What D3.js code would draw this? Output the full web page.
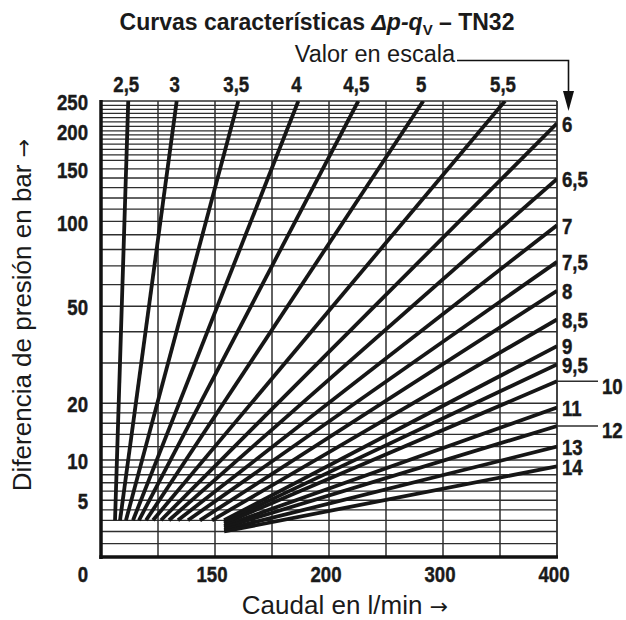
<!DOCTYPE html>
<html><head><meta charset="utf-8">
<script src="https://cdn.jsdelivr.net/npm/d3@7/dist/d3.min.js"></script>
<style>body{margin:0;background:#fff}</style>
</head><body><svg id="c" width="626" height="620"></svg>
<script>
// ---- data ----
const curveLabels = ["2,5","3","3,5","4","4,5","5","5,5","6","6,5","7","7,5","8","8,5","9","9,5","10","11","12","13","14"];
const startFlow = [12.3,16.7,21.9,28.1,33.3,39.5,45.6,52.6,59.6,67.5,76.3,86.8,97.4,108,108,108,108,108,108,108];
const startDp   = [3,3,3,3,3,3,3,3,3,3,3,3,3,3,2.85,2.7,2.5,2.35,2.15,2];
const endFlow   = [23.9,66.4,120.4,173.1,225.7,282.7,354.4,400,400,400,400,400,400,400,400,400,400,400,400,400];
const endDp     = [250,250,250,250,250,250,250,211.5,139,97,72.4,57,44.6,35.1,29.6,25.1,19.1,15.5,12,9.1];
const leaderLabels = ["10","12"];
const xTickValues = [0,100,200,300,400];
const xTickLabels = ["0","150","200","300","400"];
const xGridValues = [50,100,150,200,250,300,350];
const yTickValues = [5,10,20,50,100,150,200,250];
const yGridValues = [1,2,3,4,5,6,7,8,9,10,12,14,16,18,20,30,40,50,60,70,80,90,100,110,120,130,140,150,160,167,174,181,188,194,200,207,214,221,228,235,242];

// ---- layout ----
const svg = d3.select("#c");
const L = 101, R = 557, T = 101, B = 557;
const x = d3.scaleLinear().domain([0, 400]).range([L, R]);
const yLog = d3.scaleLog().domain([10, 260]).range([B, T]);
const y = v => yLog(v + 10);
const txtFont = "'Liberation Sans',Arial,Helvetica,sans-serif";
const grid = "#2e2e2e";
const ink = "#1a1a1a";

// condensed bold numbers
function num(g, px, py, str, anchor, central) {
  const t = g.append("text")
    .attr("transform", `translate(${px},${py}) scale(0.81,1)`)
    .attr("text-anchor", anchor)
    .attr("font-family", txtFont).attr("font-weight", "bold")
    .attr("font-size", 23).attr("fill", ink)
    .attr("stroke", ink).attr("stroke-width", 0.45).text(str);
  if (central) t.attr("dominant-baseline", "central");
  return t;
}

// clip
svg.append("defs").append("clipPath").attr("id","plot")
  .append("rect").attr("x",L).attr("y",T).attr("width",R-L).attr("height",B-T);

// gridlines
svg.append("g").selectAll("line").data(yGridValues).join("line")
  .attr("x1",L).attr("x2",R).attr("y1",d=>y(d)).attr("y2",d=>y(d))
  .attr("stroke",grid).attr("stroke-width",1.3);
svg.append("g").selectAll("line").data(xGridValues).join("line")
  .attr("y1",T).attr("y2",B).attr("x1",d=>x(d)).attr("x2",d=>x(d))
  .attr("stroke",grid).attr("stroke-width",1.5);

// frame
svg.append("line").attr("x1",L).attr("x2",R).attr("y1",T).attr("y2",T).attr("stroke",grid).attr("stroke-width",1.6);
svg.append("line").attr("x1",R).attr("x2",R).attr("y1",T).attr("y2",B).attr("stroke",grid).attr("stroke-width",1.8);
svg.append("line").attr("x1",L).attr("x2",L).attr("y1",T-1).attr("y2",B+2).attr("stroke","#111").attr("stroke-width",3.5);
svg.append("line").attr("x1",L-1.7).attr("x2",R+1).attr("y1",B).attr("y2",B).attr("stroke","#111").attr("stroke-width",3.5);

// curves
const curves = curveLabels.map((lab,i)=>({lab, pts:[[startFlow[i],startDp[i]],[endFlow[i],endDp[i]]]}));
const line = d3.line().x(d=>x(d[0])).y(d=>y(d[1]));
svg.append("g").attr("clip-path","url(#plot)").selectAll("path").data(curves).join("path")
  .attr("d",d=>line(d.pts)).attr("fill","none").attr("stroke","#161616").attr("stroke-width",3.8);

// curve labels
const lg = svg.append("g");
curves.forEach(c=>{
  const e = c.pts[1];
  if (e[1] >= 250) {
    num(lg, x(e[0])-2, T-9, c.lab, "middle", false);
  } else {
    const lead = leaderLabels.includes(c.lab);
    if (lead) {
      svg.append("line").attr("x1",R).attr("x2",R+41).attr("y1",y(e[1])).attr("y2",y(e[1]))
        .attr("stroke",grid).attr("stroke-width",1.3);
    }
    num(lg, lead ? R+45 : R+5, y(e[1])+(lead?4:0), c.lab, "start", true);
  }
});

// y ticks
const tg = svg.append("g");
yTickValues.forEach(v=> num(tg, L-13, y(v)+1, String(v), "end", true));
// x ticks
xTickValues.forEach((v,i)=>{
  if (i===0) num(tg, L-13, B+25, xTickLabels[i], "end", false);
  else num(tg, x(v)-3, B+25, xTickLabels[i], "middle", false);
});

// title
const title = svg.append("text").attr("x",317).attr("y",30).attr("text-anchor","middle")
  .attr("font-family",txtFont).attr("font-weight","bold").attr("font-size",23).attr("fill",ink);
title.append("tspan").text("Curvas características ");
title.append("tspan").attr("font-style","italic").text("Δp-q");
title.append("tspan").attr("font-size",15).attr("dy",5).text("V");
title.append("tspan").attr("dy",-5).text("  – TN32");

// "Valor en escala" pointer
svg.append("text").attr("x",455).attr("y",62).attr("text-anchor","end")
  .attr("font-family",txtFont).attr("font-size",23.5).attr("fill",ink).text("Valor en escala");
svg.append("path").attr("d",`M457,60.5H568.5V93`).attr("fill","none").attr("stroke","#111").attr("stroke-width",1.6);
svg.append("path").attr("d",`M563,91L574,91L568.5,111Z`).attr("fill","#111");

// axis titles
const xt = svg.append("text").attr("x",345).attr("y",614).attr("text-anchor","middle")
  .attr("font-family",txtFont).attr("font-size",26).attr("fill",ink);
xt.append("tspan").text("Caudal en l/min ");
xt.append("tspan").attr("font-family","'DejaVu Sans',sans-serif").attr("font-size",22).text("→");
const yt = svg.append("text").attr("transform","translate(31,315) rotate(-90)").attr("text-anchor","middle")
  .attr("font-family",txtFont).attr("font-size",26).attr("fill",ink);
yt.append("tspan").text("Diferencia de presión en bar ");
yt.append("tspan").attr("font-family","'DejaVu Sans',sans-serif").attr("font-size",22).text("→");
</script></body></html>
